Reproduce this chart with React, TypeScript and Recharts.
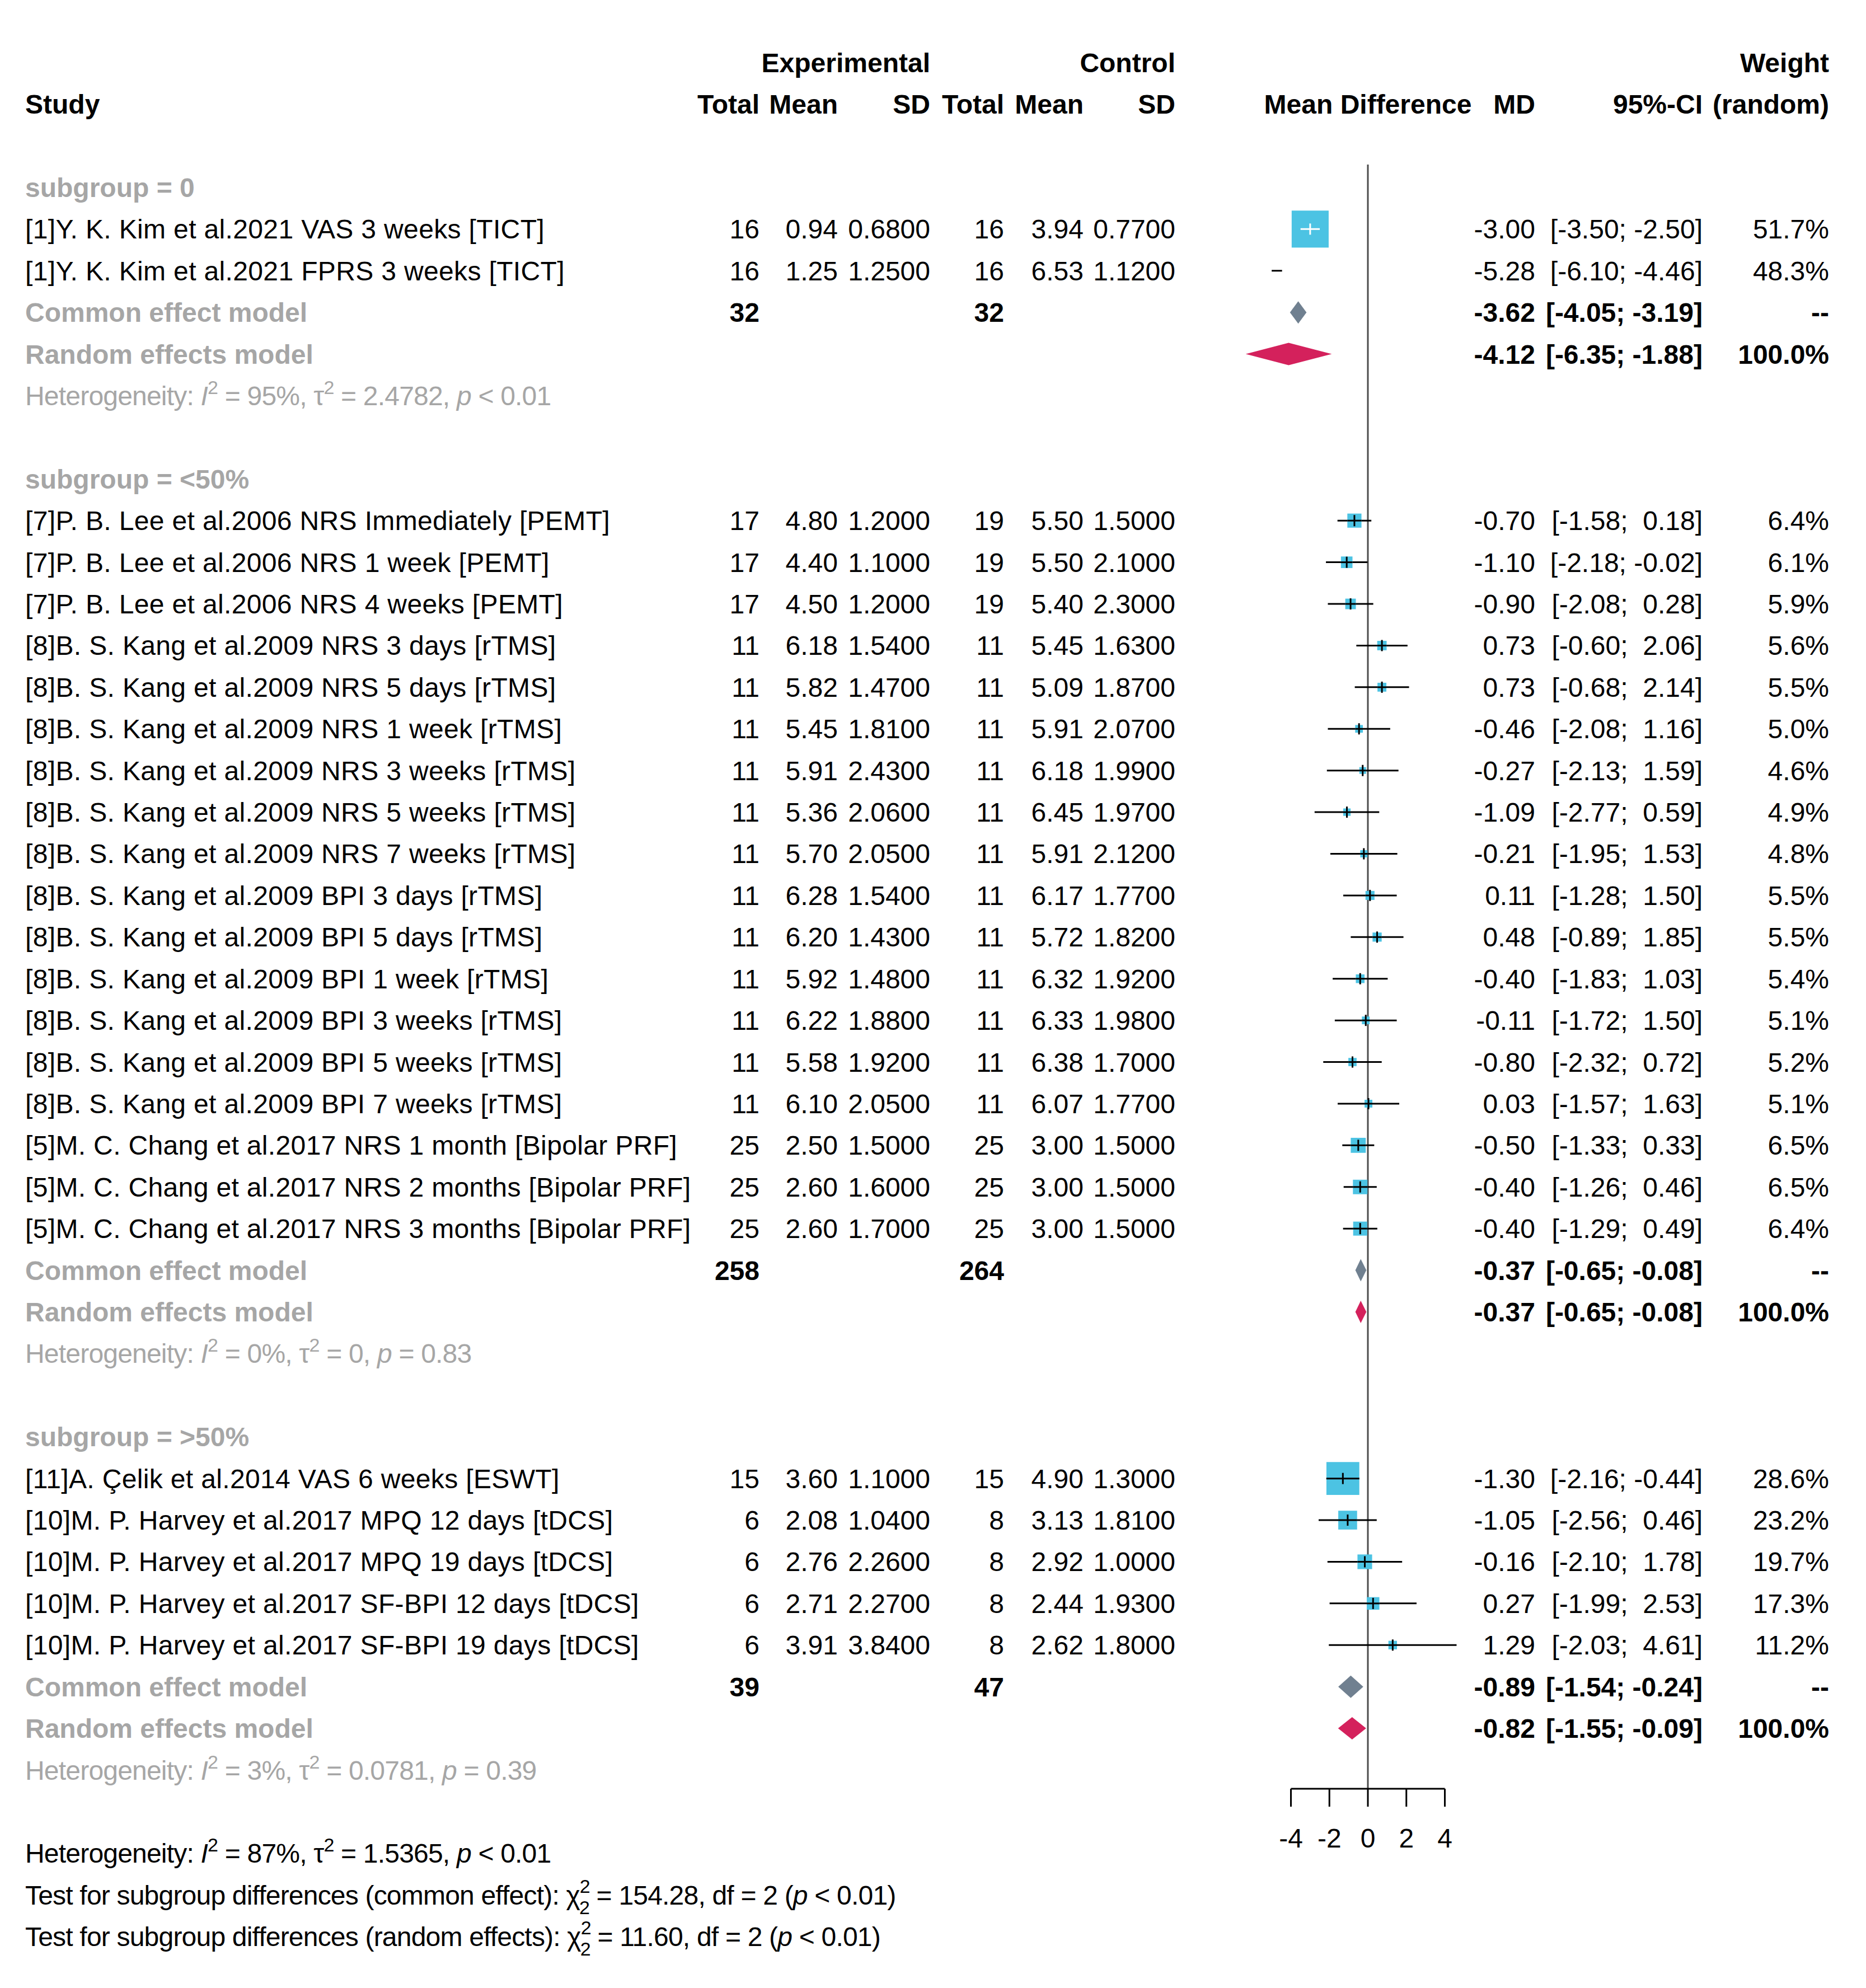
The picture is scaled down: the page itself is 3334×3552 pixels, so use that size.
import React from "react";
import { ComposedChart, XAxis, YAxis, Scatter, Area, ReferenceLine } from "recharts";

const W = 3334;
const H = 3552;
const FONT = '"Liberation Sans", Arial, Helvetica, sans-serif';
const FS = 48;
const SUP_FS = 34;
const CAP_HALF = 17;
const GRAY = "#a6a6a6";
const SQUARE = "#4cc3e3";
const COMMON_COL = "#708090";
const RANDOM_COL = "#d4215c";

// layout of the forest panel
const PLOT_LEFT = 2169;
const PLOT_RIGHT = 2719;
const PLOT_TOP = 294;
const PLOT_BOTTOM = 3196;
const X_AXIS_H = 80;
const Y_AXIS_W = 1;
const X_DOMAIN = [-8, 8];
const Y_DOMAIN = [-0.55, 38.45];
const PXU = (PLOT_RIGHT - PLOT_LEFT) / (X_DOMAIN[1] - X_DOMAIN[0]);
const ROW_PX = (PLOT_BOTTOM - PLOT_TOP) / (Y_DOMAIN[1] - Y_DOMAIN[0]);
const XLIM = 5;
const SQ_K = 7.75;
const DIAMOND_HALF = 20 / ROW_PX;

const COL = {
  label: 45,
  expN: 1357,
  expMean: 1497,
  expSD: 1662,
  ctlN: 1794,
  ctlMean: 1936,
  ctlSD: 2100,
  mdHead: 2444,
  md: 2743,
  ci: 3042,
  w: 3268,
};

// ---- data ----
const SUBGROUPS = ["0", "<50%", ">50%"];
const AXIS_TICKS = [-4, -2, 0, 2, 4];

const STUDY_GROUP = [0, 0, 1, 1, 1, 1, 1, 1, 1, 1, 1, 1, 1, 1, 1, 1, 1, 1, 1, 1, 2, 2, 2, 2, 2];
const STUDY_LABELS = [
  "[1]Y. K. Kim et al.2021 VAS 3 weeks [TICT]",
  "[1]Y. K. Kim et al.2021 FPRS 3 weeks [TICT]",
  "[7]P. B. Lee et al.2006 NRS Immediately [PEMT]",
  "[7]P. B. Lee et al.2006 NRS 1 week [PEMT]",
  "[7]P. B. Lee et al.2006 NRS 4 weeks [PEMT]",
  "[8]B. S. Kang et al.2009 NRS 3 days [rTMS]",
  "[8]B. S. Kang et al.2009 NRS 5 days [rTMS]",
  "[8]B. S. Kang et al.2009 NRS 1 week [rTMS]",
  "[8]B. S. Kang et al.2009 NRS 3 weeks [rTMS]",
  "[8]B. S. Kang et al.2009 NRS 5 weeks [rTMS]",
  "[8]B. S. Kang et al.2009 NRS 7 weeks [rTMS]",
  "[8]B. S. Kang et al.2009 BPI 3 days [rTMS]",
  "[8]B. S. Kang et al.2009 BPI 5 days [rTMS]",
  "[8]B. S. Kang et al.2009 BPI 1 week [rTMS]",
  "[8]B. S. Kang et al.2009 BPI 3 weeks [rTMS]",
  "[8]B. S. Kang et al.2009 BPI 5 weeks [rTMS]",
  "[8]B. S. Kang et al.2009 BPI 7 weeks [rTMS]",
  "[5]M. C. Chang et al.2017 NRS 1 month [Bipolar PRF]",
  "[5]M. C. Chang et al.2017 NRS 2 months [Bipolar PRF]",
  "[5]M. C. Chang et al.2017 NRS 3 months [Bipolar PRF]",
  "[11]A. Çelik et al.2014 VAS 6 weeks [ESWT]",
  "[10]M. P. Harvey et al.2017 MPQ 12 days [tDCS]",
  "[10]M. P. Harvey et al.2017 MPQ 19 days [tDCS]",
  "[10]M. P. Harvey et al.2017 SF-BPI 12 days [tDCS]",
  "[10]M. P. Harvey et al.2017 SF-BPI 19 days [tDCS]",
];
const EXP_N = [16, 16, 17, 17, 17, 11, 11, 11, 11, 11, 11, 11, 11, 11, 11, 11, 11, 25, 25, 25, 15, 6, 6, 6, 6];
const EXP_MEAN = [0.94, 1.25, 4.8, 4.4, 4.5, 6.18, 5.82, 5.45, 5.91, 5.36, 5.7, 6.28, 6.2, 5.92, 6.22, 5.58, 6.1, 2.5, 2.6, 2.6, 3.6, 2.08, 2.76, 2.71, 3.91];
const EXP_SD = [0.68, 1.25, 1.2, 1.1, 1.2, 1.54, 1.47, 1.81, 2.43, 2.06, 2.05, 1.54, 1.43, 1.48, 1.88, 1.92, 2.05, 1.5, 1.6, 1.7, 1.1, 1.04, 2.26, 2.27, 3.84];
const CTL_N = [16, 16, 19, 19, 19, 11, 11, 11, 11, 11, 11, 11, 11, 11, 11, 11, 11, 25, 25, 25, 15, 8, 8, 8, 8];
const CTL_MEAN = [3.94, 6.53, 5.5, 5.5, 5.4, 5.45, 5.09, 5.91, 6.18, 6.45, 5.91, 6.17, 5.72, 6.32, 6.33, 6.38, 6.07, 3.0, 3.0, 3.0, 4.9, 3.13, 2.92, 2.44, 2.62];
const CTL_SD = [0.77, 1.12, 1.5, 2.1, 2.3, 1.63, 1.87, 2.07, 1.99, 1.97, 2.12, 1.77, 1.82, 1.92, 1.98, 1.7, 1.77, 1.5, 1.5, 1.5, 1.3, 1.81, 1.0, 1.93, 1.8];
const MD = [-3.0, -5.28, -0.7, -1.1, -0.9, 0.73, 0.73, -0.46, -0.27, -1.09, -0.21, 0.11, 0.48, -0.4, -0.11, -0.8, 0.03, -0.5, -0.4, -0.4, -1.3, -1.05, -0.16, 0.27, 1.29];
const CI_LO = [-3.5, -6.1, -1.58, -2.18, -2.08, -0.6, -0.68, -2.08, -2.13, -2.77, -1.95, -1.28, -0.89, -1.83, -1.72, -2.32, -1.57, -1.33, -1.26, -1.29, -2.16, -2.56, -2.1, -1.99, -2.03];
const CI_HI = [-2.5, -4.46, 0.18, -0.02, 0.28, 2.06, 2.14, 1.16, 1.59, 0.59, 1.53, 1.5, 1.85, 1.03, 1.5, 0.72, 1.63, 0.33, 0.46, 0.49, -0.44, 0.46, 1.78, 2.53, 4.61];
const WEIGHT = [51.7, 48.3, 6.4, 6.1, 5.9, 5.6, 5.5, 5.0, 4.6, 4.9, 4.8, 5.5, 5.5, 5.4, 5.1, 5.2, 5.1, 6.5, 6.5, 6.4, 28.6, 23.2, 19.7, 17.3, 11.2];

const COMMON_EXP_N = [32, 258, 39];
const COMMON_CTL_N = [32, 264, 47];
const COMMON_MD = [-3.62, -0.37, -0.89];
const COMMON_LO = [-4.05, -0.65, -1.54];
const COMMON_HI = [-3.19, -0.08, -0.24];
const RANDOM_MD = [-4.12, -0.37, -0.82];
const RANDOM_LO = [-6.35, -0.65, -1.55];
const RANDOM_HI = [-1.88, -0.08, -0.09];
const HET_I2 = ["95%", "0%", "3%"];
const HET_TAU2 = ["2.4782", "0", "0.0781"];
const HET_P = ["< 0.01", "= 0.83", "= 0.39"];

const OVERALL_HET = { i2: "87%", tau2: "1.5365", p: "< 0.01" };
const TEST_COMMON = { chi: "154.28", df: "2", p: "< 0.01" };
const TEST_RANDOM = { chi: "11.60", df: "2", p: "< 0.01" };

// ---- derived rows ----
const f2 = (v: number) => v.toFixed(2);
const sg = (v: number) => (v < 0 ? v.toFixed(2) : " " + v.toFixed(2));
const ci = (lo: number, hi: number) => `[${sg(lo)}; ${sg(hi)}]`;

// common-effect (inverse variance) weight, used for square area
const ivw = STUDY_LABELS.map((_, i) => 1 / (EXP_SD[i] ** 2 / EXP_N[i] + CTL_SD[i] ** 2 / CTL_N[i]));
const groupW = SUBGROUPS.map((_, g) =>
  ivw.reduce((s, w, i) => (STUDY_GROUP[i] === g ? s + w : s), 0)
);

type Row = { r: number; kind: string; g: number; i?: number };
const ROWS: Row[] = [];
{
  let r = 0;
  SUBGROUPS.forEach((_, g) => {
    ROWS.push({ r: r++, kind: "sub", g });
    STUDY_LABELS.forEach((__, i) => {
      if (STUDY_GROUP[i] === g) ROWS.push({ r: r++, kind: "study", g, i });
    });
    ROWS.push({ r: r++, kind: "common", g });
    ROWS.push({ r: r++, kind: "random", g });
    ROWS.push({ r: r++, kind: "het", g });
    r++;
  });
}
const ROW_MAP = new Map(ROWS.map((row) => [row.r, row]));
const studyRows = ROWS.filter((row) => row.kind === "study");

const squarePts = studyRows
  .filter((row) => Math.abs(MD[row.i!]) <= XLIM)
  .map((row) => {
    const i = row.i!;
    const size = SQ_K * Math.sqrt((100 * ivw[i]) / groupW[row.g]);
    const inside = (MD[i] - CI_LO[i]) * PXU < size / 2 && (CI_HI[i] - MD[i]) * PXU < size / 2;
    return { x: MD[i], y: row.r, lo: CI_LO[i], hi: CI_HI[i], size, inside };
  });

const ciSegs = studyRows
  .filter((row) => CI_HI[row.i!] > -XLIM && CI_LO[row.i!] < XLIM)
  .filter((row) => !squarePts.find((p) => p.y === row.r && p.inside))
  .map((row) => ({
    y: row.r,
    a: Math.max(CI_LO[row.i!], -XLIM),
    b: Math.min(CI_HI[row.i!], XLIM),
  }));

const arrowPts = studyRows
  .filter((row) => CI_HI[row.i!] < -XLIM || CI_LO[row.i!] > XLIM)
  .map((row) => ({ x: CI_HI[row.i!] < -XLIM ? -XLIM : XLIM, y: row.r, dir: CI_HI[row.i!] < -XLIM ? -1 : 1 }));

const diamond = (md: number, lo: number, hi: number, r: number) => [
  { x: lo, v: [r, r] },
  { x: md, v: [r - DIAMOND_HALF, r + DIAMOND_HALF] },
  { x: hi, v: [r, r] },
];
const DIAMONDS = ROWS.filter((row) => row.kind === "common" || row.kind === "random").map((row) => {
  const c = row.kind === "common";
  const g = row.g;
  return {
    color: c ? COMMON_COL : RANDOM_COL,
    pts: c
      ? diamond(COMMON_MD[g], COMMON_LO[g], COMMON_HI[g], row.r)
      : diamond(RANDOM_MD[g], RANDOM_LO[g], RANDOM_HI[g], row.r),
  };
});

// ---- text helpers ----
const T = (x: number, y: number, s: string, opts: any = {}) => (
  <text
    x={x}
    y={y}
    textAnchor={opts.anchor || "end"}
    fontFamily={FONT}
    fontSize={FS}
    fontWeight={opts.bold ? "bold" : "normal"}
    fill={opts.fill || "#000"}
    letterSpacing={opts.ls || 0}
    style={{ whiteSpace: "pre" }}
  >
    {s}
  </text>
);

// plotmath lines in the original run a little tighter than plain text
const MATH_LS = -0.8;

const Het = ({ x, y, fill, i2, tau2, p }: any) => (
  <text x={x} y={y} fontFamily={FONT} fontSize={FS} fill={fill} letterSpacing={MATH_LS}>
    <tspan>Heterogeneity: </tspan>
    <tspan fontStyle="italic">I</tspan>
    <tspan dy={-20} fontSize={SUP_FS}>2</tspan>
    <tspan dy={20}> = {i2}, τ</tspan>
    <tspan dy={-20} fontSize={SUP_FS}>2</tspan>
    <tspan dy={20}> = {tau2}, </tspan>
    <tspan fontStyle="italic">p</tspan>
    <tspan> {p}</tspan>
  </text>
);

const Test = ({ x, y, kind, chi, df, p }: any) => (
  <text x={x} y={y} fontFamily={FONT} fontSize={FS} fill="#000" letterSpacing={MATH_LS}>
    <tspan>Test for subgroup differences ({kind}): χ</tspan>
    <tspan dy={-21} fontSize={SUP_FS}>2</tspan>
    <tspan dx={-19} dy={38} fontSize={SUP_FS}>{df}</tspan>
    <tspan dy={-17}> = {chi}, df = {df} (</tspan>
    <tspan fontStyle="italic">p</tspan>
    <tspan> {p})</tspan>
  </text>
);

function RowText(props: any) {
  const row = ROW_MAP.get(props.payload?.value);
  if (!row) return <g />;
  const y = props.y + CAP_HALF;
  const g = row.g;
  if (row.kind === "sub")
    return T(COL.label, y, `subgroup = ${SUBGROUPS[g]}`, { anchor: "start", bold: true, fill: GRAY });
  if (row.kind === "het")
    return <Het x={COL.label} y={y} fill={GRAY} i2={HET_I2[g]} tau2={HET_TAU2[g]} p={HET_P[g]} />;
  if (row.kind === "common")
    return (
      <g>
        {T(COL.label, y, "Common effect model", { anchor: "start", bold: true, fill: GRAY })}
        {T(COL.expN, y, String(COMMON_EXP_N[g]), { bold: true })}
        {T(COL.ctlN, y, String(COMMON_CTL_N[g]), { bold: true })}
        {T(COL.md, y, f2(COMMON_MD[g]), { bold: true })}
        {T(COL.ci, y, ci(COMMON_LO[g], COMMON_HI[g]), { bold: true })}
        {T(COL.w, y, "--", { bold: true })}
      </g>
    );
  if (row.kind === "random")
    return (
      <g>
        {T(COL.label, y, "Random effects model", { anchor: "start", bold: true, fill: GRAY })}
        {T(COL.md, y, f2(RANDOM_MD[g]), { bold: true })}
        {T(COL.ci, y, ci(RANDOM_LO[g], RANDOM_HI[g]), { bold: true })}
        {T(COL.w, y, "100.0%", { bold: true })}
      </g>
    );
  const i = row.i!;
  return (
    <g>
      {T(COL.label, y, STUDY_LABELS[i], { anchor: "start", ls: 0.35 })}
      {T(COL.expN, y, String(EXP_N[i]))}
      {T(COL.expMean, y, f2(EXP_MEAN[i]))}
      {T(COL.expSD, y, EXP_SD[i].toFixed(4))}
      {T(COL.ctlN, y, String(CTL_N[i]))}
      {T(COL.ctlMean, y, f2(CTL_MEAN[i]))}
      {T(COL.ctlSD, y, CTL_SD[i].toFixed(4))}
      {T(COL.md, y, f2(MD[i]))}
      {T(COL.ci, y, ci(CI_LO[i], CI_HI[i]))}
      {T(COL.w, y, `${WEIGHT[i].toFixed(1)}%`)}
    </g>
  );
}

const StudyMark = (p: any) => {
  const { cx, cy, payload: d } = p;
  if (cx == null || cy == null) return <g />;
  const h = d.size / 2;
  const left = Math.max(cx - h, cx + (d.lo - d.x) * PXU);
  const right = Math.min(cx + h, cx + (d.hi - d.x) * PXU);
  const ink = d.inside ? "#fff" : "#000";
  return (
    <g>
      <rect x={cx - h} y={cy - h} width={d.size} height={d.size} fill={SQUARE} />
      <line x1={left} x2={right} y1={cy} y2={cy} stroke={ink} strokeWidth={3} />
      <line x1={cx} x2={cx} y1={cy - 10} y2={cy + 10} stroke={ink} strokeWidth={3} />
    </g>
  );
};

const ArrowMark = (p: any) => {
  const { cx, cy, payload: d } = p;
  if (cx == null || cy == null) return <g />;
  const s = -d.dir;
  return (
    <g>
      <line x1={cx + s * 8} x2={cx + s * 22} y1={cy} y2={cy} stroke="#000" strokeWidth={3.5} />
      <polygon points={`${cx},${cy} ${cx + s * 12},${cy - 7} ${cx + s * 12},${cy + 7}`} fill="#000" />
    </g>
  );
};

const rowY = (r: number) => PLOT_TOP + (r - Y_DOMAIN[0]) * ROW_PX;

export default function App() {
  const h1 = rowY(-3) + CAP_HALF;
  const h2 = rowY(-2) + CAP_HALF;
  return (
    <div style={{ position: "absolute", left: 0, top: 0, width: W, height: H, background: "#fff" }}>
      <ComposedChart
        width={W}
        height={H}
        margin={{
          top: PLOT_TOP,
          bottom: H - PLOT_BOTTOM - X_AXIS_H,
          left: PLOT_LEFT - Y_AXIS_W,
          right: W - PLOT_RIGHT,
        }}
      >
        <XAxis
          type="number"
          dataKey="x"
          domain={X_DOMAIN}
          ticks={AXIS_TICKS}
          interval={0}
          axisLine={false}
          tickLine={{ stroke: "#000", strokeWidth: 3 }}
          tickSize={32}
          tickMargin={39}
          height={X_AXIS_H}
          tick={{ fontSize: FS, fill: "#000", fontFamily: FONT }}
        />
        <YAxis
          type="number"
          dataKey="y"
          domain={Y_DOMAIN}
          reversed
          ticks={ROWS.map((row) => row.r)}
          interval={0}
          width={Y_AXIS_W}
          axisLine={false}
          tickLine={false}
          tick={(props: any) => <RowText {...props} />}
        />
        <ReferenceLine x={0} stroke="#4d4d4d" strokeWidth={3} />
        <ReferenceLine
          segment={[
            { x: AXIS_TICKS[0], y: Y_DOMAIN[1] },
            { x: AXIS_TICKS[AXIS_TICKS.length - 1], y: Y_DOMAIN[1] },
          ]}
          stroke="#000"
          strokeWidth={3}
        />
        {ciSegs.map((s, k) => (
          <ReferenceLine
            key={`ci${k}`}
            segment={[
              { x: s.a, y: s.y },
              { x: s.b, y: s.y },
            ]}
            stroke="#000"
            strokeWidth={3}
          />
        ))}
        {DIAMONDS.map((d, k) => (
          <Area
            key={`d${k}`}
            data={d.pts}
            dataKey="v"
            type="linear"
            stroke="none"
            fill={d.color}
            fillOpacity={1}
            dot={false}
            activeDot={false}
            isAnimationActive={false}
          />
        ))}
        <Scatter data={squarePts} dataKey="y" shape={StudyMark} isAnimationActive={false} />
        <Scatter data={arrowPts} dataKey="y" shape={ArrowMark} isAnimationActive={false} />
      </ComposedChart>
      <svg
        width={W}
        height={H}
        style={{ position: "absolute", left: 0, top: 0, pointerEvents: "none" }}
      >
        {T(COL.expSD, h1, "Experimental", { bold: true })}
        {T(COL.ctlSD, h1, "Control", { bold: true })}
        {T(COL.w, h1, "Weight", { bold: true })}
        {T(COL.label, h2, "Study", { bold: true, anchor: "start" })}
        {T(COL.expN, h2, "Total", { bold: true })}
        {T(COL.expMean, h2, "Mean", { bold: true })}
        {T(COL.expSD, h2, "SD", { bold: true })}
        {T(COL.ctlN, h2, "Total", { bold: true })}
        {T(COL.ctlMean, h2, "Mean", { bold: true })}
        {T(COL.ctlSD, h2, "SD", { bold: true })}
        {T(COL.mdHead, h2, "Mean Difference", { bold: true, anchor: "middle" })}
        {T(COL.md, h2, "MD", { bold: true })}
        {T(COL.ci, h2, "95%-CI", { bold: true })}
        {T(COL.w, h2, "(random)", { bold: true })}
        <Het x={COL.label} y={rowY(40) + CAP_HALF} fill="#000" {...OVERALL_HET} />
        <Test x={COL.label} y={rowY(41) + CAP_HALF} kind="common effect" {...TEST_COMMON} />
        <Test x={COL.label} y={rowY(42) + CAP_HALF} kind="random effects" {...TEST_RANDOM} />
      </svg>
    </div>
  );
}
